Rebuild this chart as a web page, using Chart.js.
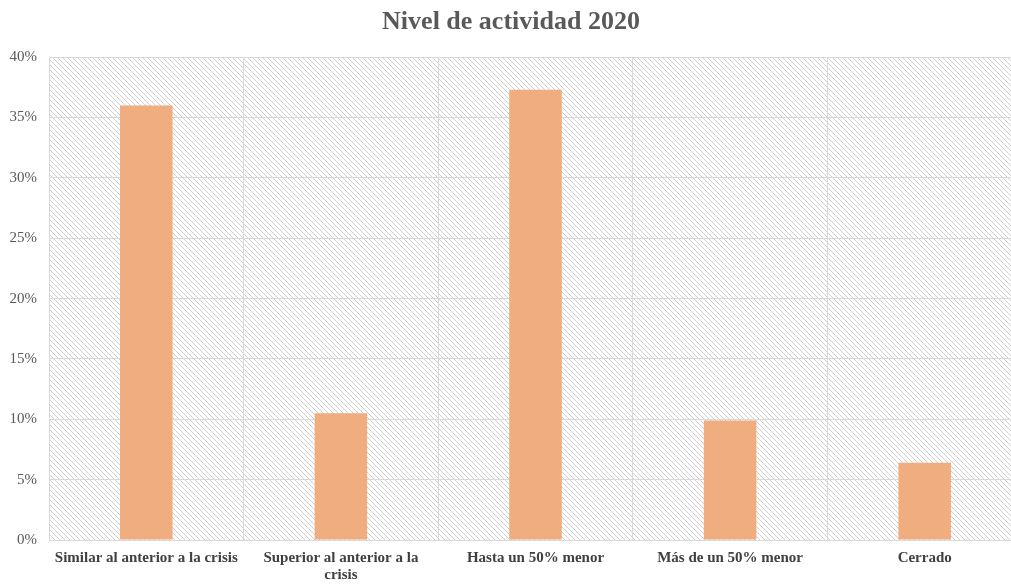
<!DOCTYPE html>
<html>
<head>
<meta charset="utf-8">
<script src="https://cdn.jsdelivr.net/npm/chart.js@4"></script>
<style>
  html, body { margin: 0; padding: 0; background: #fff; overflow: hidden; }
  #wrap { width: 1022px; height: 584px; }
</style>
</head>
<body>
<div id="wrap"><canvas id="activityChart" width="1022" height="584"></canvas></div>
<script>
// Data
const categories = [
  "Similar al anterior a la crisis",
  ["Superior al anterior a la", "crisis"],
  "Hasta un 50% menor",
  "Más de un 50% menor",
  "Cerrado"
];
const shareValues = [36.0, 10.5, 37.3, 9.9, 6.4];
const yTicks = [0, 5, 10, 15, 20, 25, 30, 35, 40];

// Diagonal hatch for the plot background
function makeHatch() {
  const s = 5;
  const c = document.createElement('canvas');
  c.width = s; c.height = s;
  const g = c.getContext('2d');
  g.fillStyle = '#ffffff';
  g.fillRect(0, 0, s, s);
  g.strokeStyle = '#cfcfcf';
  g.lineWidth = 1;
  g.beginPath();
  g.moveTo(-1, -1); g.lineTo(s + 1, s + 1);
  g.moveTo(-1, s - 1); g.lineTo(1, s + 1);
  g.moveTo(s - 1, -1); g.lineTo(s + 1, 1);
  g.stroke();
  return g.createPattern(c, 'repeat');
}

const hatchBackground = {
  id: 'hatchBackground',
  beforeDraw(chart) {
    const { ctx, chartArea } = chart;
    ctx.save();
    ctx.fillStyle = makeHatch();
    ctx.fillRect(chartArea.left, chartArea.top, chartArea.right - chartArea.left, chartArea.bottom - chartArea.top);
    ctx.restore();
  }
};

new Chart(document.getElementById('activityChart'), {
  type: 'bar',
  data: {
    labels: categories,
    datasets: [{
      label: 'Nivel de actividad 2020',
      data: shareValues,
      backgroundColor: '#f0ad80',
      categoryPercentage: 1,
      barPercentage: 0.27
    }]
  },
  options: {
    responsive: false,
    animation: false,
    layout: { padding: 0 },
    plugins: {
      legend: { display: false },
      tooltip: { enabled: false },
      title: {
        display: true,
        text: 'Nivel de actividad 2020',
        color: '#595959',
        font: { family: '"Liberation Serif", serif', size: 26, weight: 'bold' },
        padding: { top: 7, bottom: 19 }
      }
    },
    scales: {
      x: {
        afterFit(scale) { scale.height = 44; },
        grid: { color: '#d9d9d9', offset: true, drawTicks: false },
        border: { color: '#d9d9d9' },
        ticks: {
          color: '#404040',
          padding: 9,
          maxRotation: 0,
          font: { family: '"Liberation Serif", serif', size: 15, weight: 'bold', lineHeight: 1.15 }
        }
      },
      y: {
        min: 0,
        max: 40,
        afterFit(scale) { scale.width = 49; },
        afterBuildTicks(axis) { axis.ticks = yTicks.map(v => ({ value: v })); },
        grid: { color: '#d9d9d9', drawTicks: false },
        border: { display: false },
        ticks: {
          color: '#595959',
          padding: 12,
          font: { family: '"Liberation Serif", serif', size: 15 },
          callback: v => v + '%'
        }
      }
    }
  },
  plugins: [hatchBackground]
});
</script>
</body>
</html>
